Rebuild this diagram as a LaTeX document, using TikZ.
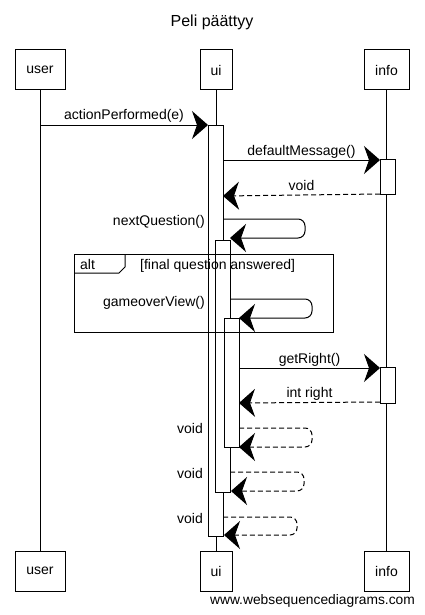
\documentclass[tikz,border=0pt]{standalone}
\usepackage{fontspec}
\setmainfont{Liberation Sans}
\usetikzlibrary{arrows.meta}
\begin{document}
\begin{tikzpicture}[x=1pt,y=-1pt,
  every node/.style={font=\fontsize{14}{16}\selectfont, inner sep=0pt},
  pbox/.style={draw, line width=1pt, minimum height=40pt, fill=white},
  life/.style={line width=1pt},
  actbar/.style={draw, line width=1pt, fill=white},
  frame/.style={draw, line width=1pt},
  msg/.style={line width=1pt, -{Stealth[length=16pt,width=28pt,inset=5pt]}},
  ret/.style={msg, dash pattern=on 5pt off 3pt},
  selfmsg/.style={msg, rounded corners=7pt},
  selfret/.style={ret, rounded corners=7pt},
  lbl/.style={midway, anchor=base, yshift=5pt},
  leftlbl/.style={anchor=base east}]
\useasboundingbox (0,0) rectangle (424,615);

% title
\node[font=\fontsize{16}{19}\selectfont, anchor=base] (title) at (212,27) {Peli päättyy};

% participants
\node[pbox, minimum width=50pt] (userT) at (40,70) {user};
\node[pbox, minimum width=32pt] (uiT) at (216,70) {ui};
\node[pbox, minimum width=45pt] (infoT) at (386.5,70) {info};
\node[pbox, minimum width=50pt] (userB) at (40,571) {user};
\node[pbox, minimum width=32pt] (uiB) at (216,571) {ui};
\node[pbox, minimum width=45pt] (infoB) at (386.5,571) {info};

% lifelines
\draw[life] (userT.south) -- (userB.north);
\draw[life] (uiT.south) -- (uiB.north);
\draw[life] (infoT.south) -- (infoB.north);

% activation bars
\draw[actbar] (208,125) rectangle (223,536);
\draw[actbar] (215,240) rectangle (230,492);
\draw[actbar] (224,318) rectangle (239,447);
\draw[actbar] (380,159) rectangle (395,194);
\draw[actbar] (380,367) rectangle (395,403);

% alt frame
\draw[frame] (74,254) rectangle (333,332);
\draw[frame] (74,273) -- (119,273) -- (125,267) -- (125,254);
\node[anchor=base west] (altlbl) at (80,269) {alt};
\node[anchor=base west] (altcond) at (140,269) {[final question answered]};

% coordinates
\coordinate (a1) at (40,125);
\coordinate (a2) at (208,125);
\coordinate (b1) at (223,160);
\coordinate (b2) at (380,160);
\coordinate (c1) at (380,194);
\coordinate (c2) at (223,196);
\coordinate (d1) at (223,219);
\coordinate (d2) at (230,238);
\coordinate (e1) at (230,299);
\coordinate (e2) at (239,318);
\coordinate (f1) at (239,368);
\coordinate (f2) at (380,368);
\coordinate (g1) at (380,402);
\coordinate (g2) at (239,403);
\coordinate (h1) at (239,428);
\coordinate (h2) at (239,447);
\coordinate (i1) at (230,472);
\coordinate (i2) at (231,491);
\coordinate (j1) at (223,517);
\coordinate (j2) at (224,535);

% messages
\draw[msg] (a1) -- node[lbl] (la) {actionPerformed(e)} (a2);
\draw[msg] (b1) -- node[lbl] (lb) {defaultMessage()} (b2);
\draw[ret] (c1) -- node[lbl] (lc) {void} (c2);
\draw[selfmsg] (d1) -- ++(82,0) |- (d2);
\node[leftlbl] (ld) at (205,225) {nextQuestion()};
\draw[selfmsg] (e1) -- ++(82,0) |- (e2);
\node[leftlbl] (le) at (205,306) {gameoverView()};
\draw[msg] (f1) -- node[lbl] (lf) {getRight()} (f2);
\draw[ret] (g1) -- node[lbl] (lg) {int right} (g2);
\draw[selfret] (h1) -- ++(73,0) |- (h2);
\node[leftlbl] (lh) at (203,433) {void};
\draw[selfret] (i1) -- ++(74,0) |- (i2);
\node[leftlbl] (li) at (203,478) {void};
\draw[selfret] (j1) -- ++(74,0) |- (j2);
\node[leftlbl] (lj) at (203,523) {void};

% footer
\node[anchor=base, font=\fontsize{13.8}{16}\selectfont] (footer) at (312.5,604) {www.websequencediagrams.com};
\end{tikzpicture}
\end{document}
